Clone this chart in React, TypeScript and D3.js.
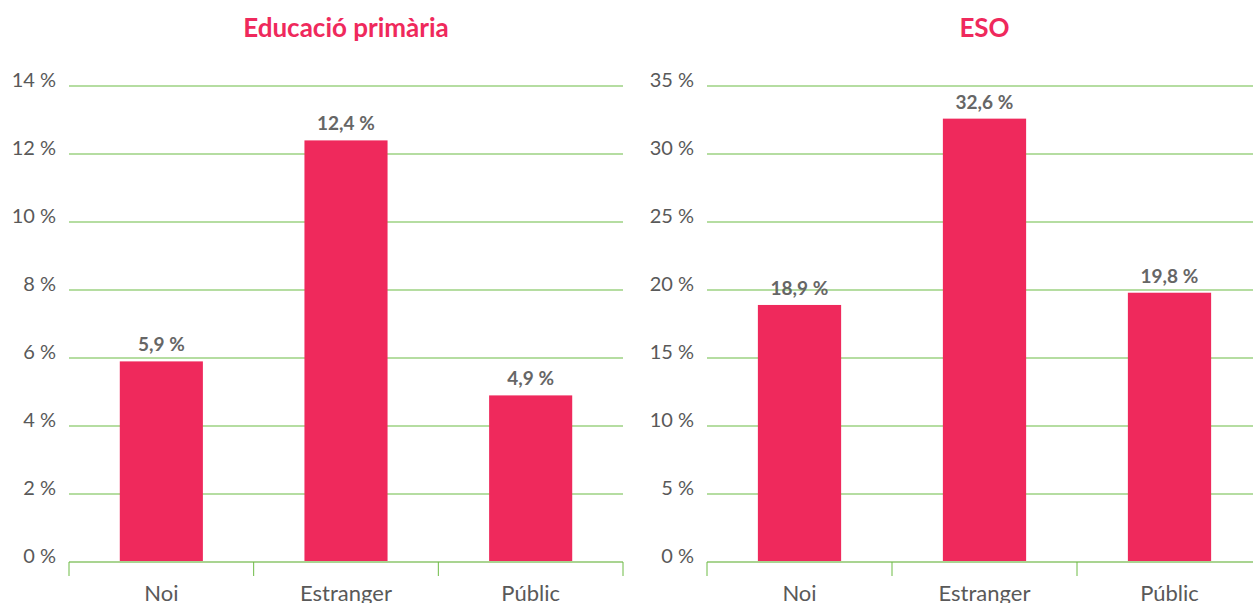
import { useRef, useEffect } from 'react';
import * as d3 from 'd3';

const WIDTH = 1253;
const HEIGHT = 603;
const BAR_COLOR = '#ef295c';
const GRID_COLOR = '#6dbb45';
const AXIS_COLOR = '#a9d491';
const TEXT_COLOR = '#595959';
const LABEL_COLOR = '#666666';
const FONT = 'Lato, "Open Sans", sans-serif';

const categories = ['Noi', 'Estranger', 'Públic'];
const primariaValues = [5.9, 12.4, 4.9];
const esoValues = [18.9, 32.6, 19.8];
const primariaTicks = [0, 2, 4, 6, 8, 10, 12, 14];
const esoTicks = [0, 5, 10, 15, 20, 25, 30, 35];

const panels = [
  { title: 'Educació primària', values: primariaValues, ticks: primariaTicks, x0: 69, x1: 623 },
  { title: 'ESO', values: esoValues, ticks: esoTicks, x0: 707, x1: 1262 },
];

const fmt = (v: number) => v.toFixed(1).replace('.', ',') + '\u202f%';

function App() {
  const svgRef = useRef<SVGSVGElement>(null);

  useEffect(() => {
    document.body.style.margin = '0';
    const svg = d3.select(svgRef.current);
    svg.selectAll('*').remove();

    const top = 86;
    const bottom = 562;

    panels.forEach(p => {
      const g = svg.append('g');
      const x = d3.scaleBand<string>().domain(categories).range([p.x0, p.x1]).padding(0);
      const y = d3.scaleLinear()
        .domain([0, p.ticks[p.ticks.length - 1]])
        .range([bottom, top]);
      const barW = x.bandwidth() * 0.45;

      // Title
      g.append('text')
        .attr('x', (p.x0 + p.x1) / 2)
        .attr('y', 37)
        .attr('text-anchor', 'middle')
        .attr('fill', BAR_COLOR)
        .attr('font-size', 26)
        .attr('font-weight', 700)
        .attr('font-family', FONT)
        .text(p.title);

      // Grid
      g.selectAll('.grid')
        .data(p.ticks.filter(t => t > 0))
        .join('line')
        .attr('x1', p.x0).attr('x2', p.x1)
        .attr('y1', d => y(d)).attr('y2', d => y(d))
        .attr('stroke', GRID_COLOR)
        .attr('stroke-width', 1.2);

      // Y labels
      g.selectAll('.ylab')
        .data(p.ticks)
        .join('text')
        .attr('x', p.x0 - 13)
        .attr('y', d => y(d) + 1)
        .attr('text-anchor', 'end')
        .attr('fill', TEXT_COLOR)
        .attr('font-size', 20)
        .attr('font-family', FONT)
        .text(d => d + '\u202f%');

      // Bars
      g.selectAll('.bar')
        .data(p.values)
        .join('rect')
        .attr('x', (_, i) => x(categories[i])! + (x.bandwidth() - barW) / 2)
        .attr('y', d => y(d))
        .attr('width', barW)
        .attr('height', d => bottom - y(d))
        .attr('fill', BAR_COLOR);

      // Value labels
      g.selectAll('.val')
        .data(p.values)
        .join('text')
        .attr('x', (_, i) => x(categories[i])! + x.bandwidth() / 2)
        .attr('y', d => y(d) - 10)
        .attr('text-anchor', 'middle')
        .attr('fill', LABEL_COLOR)
        .attr('font-size', 19)
        .attr('font-weight', 700)
        .attr('font-family', FONT)
        .text(d => fmt(d));

      // X axis
      g.append('line')
        .attr('x1', p.x0).attr('x2', p.x1)
        .attr('y1', bottom).attr('y2', bottom)
        .attr('stroke', AXIS_COLOR)
        .attr('stroke-width', 2);

      const edges = [...categories.map(c => x(c)!), p.x1];
      g.selectAll('.tick')
        .data(edges)
        .join('line')
        .attr('x1', d => d).attr('x2', d => d)
        .attr('y1', bottom).attr('y2', bottom + 14)
        .attr('stroke', GRID_COLOR)
        .attr('stroke-width', 1);

      g.selectAll('.cat')
        .data(categories)
        .join('text')
        .attr('x', d => x(d)! + x.bandwidth() / 2)
        .attr('y', 601)
        .attr('text-anchor', 'middle')
        .attr('fill', TEXT_COLOR)
        .attr('font-size', 22)
        .attr('font-family', FONT)
        .text(d => d);
    });
  }, []);

  return <svg ref={svgRef} width={WIDTH} height={HEIGHT} style={{ display: 'block', background: '#fff' }} />;
}

export default App;
